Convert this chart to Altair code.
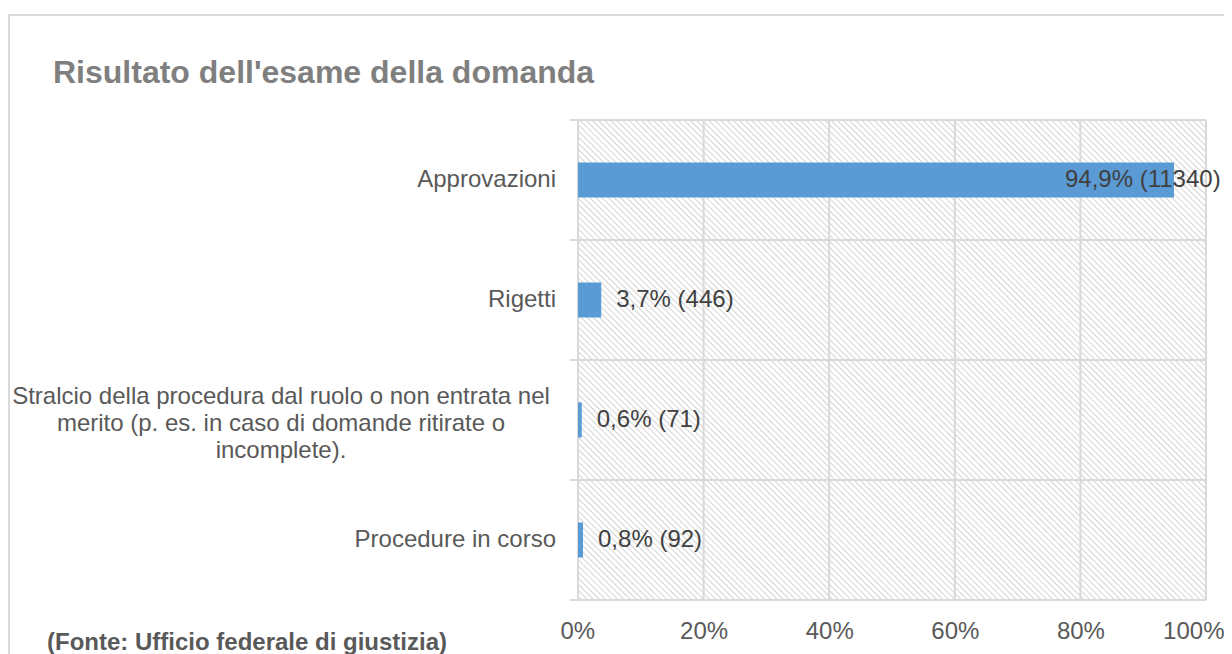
import altair as alt
import pandas as pd

# ---------------- data ----------------
categories = [
    "Approvazioni",
    "Rigetti",
    "Stralcio della procedura dal ruolo o non entrata nel\nmerito (p. es. in caso di domande ritirate o\nincomplete).",
    "Procedure in corso",
]
percent = [94.9, 3.7, 0.6, 0.8]
counts = [11340, 446, 71, 92]
x_ticks = [0, 20, 40, 60, 80, 100]
title_text = "Risultato dell'esame della domanda"
source_text = "(Fonte: Ufficio federale di giustizia)"

# ---------------- style ----------------
W, H = 628, 480
FONT = "Liberation Sans"
FS = 24
GRID = "#d9d9d9"
BLUE = "#5b9bd5"

df = pd.DataFrame({"category": categories, "percent": percent, "count": counts})
tick_df = pd.DataFrame({"tick": x_ticks})
one = pd.DataFrame({"k": [0]})

x_scale = alt.Scale(domain=[0, 100], nice=False, zero=True)
y_scale = alt.Scale(domain=categories, paddingInner=0, paddingOuter=0)
y_enc = alt.Y("category:N", sort=categories, scale=y_scale, axis=None, title=None)

# hatch pattern (diagonal stripes) as a linear gradient
N = 205
stops = []
for k in range(N):
    stops.append({"offset": k / N, "color": "#ffffff"})
    stops.append({"offset": (k + 0.5) / N, "color": "#ffffff"})
    stops.append({"offset": (k + 0.78) / N, "color": "#d6d6d6"})
stops.append({"offset": 1, "color": "#ffffff"})
hatch_fill = {"gradient": "linear", "x1": 0, "y1": 1, "x2": 1, "y2": 0, "stops": stops}

hatch = alt.Chart(one).mark_rect(fill=hatch_fill, clip=True).encode(
    x=alt.X(datum=0, scale=x_scale, title=None),
    x2=alt.X2(datum=100),
    y=alt.value(0),
    y2=alt.value(W),
)

vgrid = alt.Chart(tick_df).mark_rule(color=GRID, strokeWidth=2).encode(
    x=alt.X(
        "tick:Q",
        scale=x_scale,
        title=None,
        axis=alt.Axis(
            values=x_ticks,
            labelExpr="datum.value + '%'",
            domain=False,
            ticks=False,
            tickSize=0,
            grid=False,
            labelFont=FONT,
            labelFontSize=FS,
            labelColor="#595959",
            labelPadding=38,
            labelBaseline="alphabetic",
            labelFlush=True,
            labelFlushOffset=18,
            labelOverlap=False,
        ),
    )
)

hgrid = alt.Chart(df).mark_rule(color=GRID, strokeWidth=2).encode(
    y=alt.Y("category:N", sort=categories, scale=y_scale, axis=None, bandPosition=0),
    x=alt.value(-8),
    x2=alt.value(W),
)
hgrid_bottom = alt.Chart(one).mark_rule(color=GRID, strokeWidth=2).encode(
    y=alt.value(H),
    x=alt.value(-8),
    x2=alt.value(W),
)

bars = alt.Chart(df).mark_bar(color=BLUE, height={"band": 0.292}).encode(
    x=alt.X("percent:Q", scale=x_scale, title=None),
    y=y_enc,
)

label_calc = "replace(format(datum.percent, '.1f'), '.', ',') + '% (' + datum.count + ')'"

labels_out = (
    alt.Chart(df)
    .transform_filter("datum.percent < 50")
    .transform_calculate(lbl=label_calc)
    .mark_text(align="left", baseline="middle", dx=15, font=FONT, fontSize=FS, color="#404040")
    .encode(x=alt.X("percent:Q", scale=x_scale, title=None), y=y_enc, text="lbl:N")
)
labels_in = (
    alt.Chart(df)
    .transform_filter("datum.percent >= 50")
    .transform_calculate(lbl=label_calc)
    .mark_text(align="left", baseline="middle", dx=-109, font=FONT, fontSize=FS, color="#404040")
    .encode(x=alt.X("percent:Q", scale=x_scale, title=None), y=y_enc, text="lbl:N")
)

cat_single = (
    alt.Chart(df)
    .transform_filter("indexof(datum.category, '\\n') < 0")
    .mark_text(align="right", baseline="middle", font=FONT, fontSize=FS, color="#595959")
    .encode(x=alt.value(-22), y=y_enc, text="category:N")
)
cat_multi = (
    alt.Chart(df)
    .transform_filter("indexof(datum.category, '\\n') >= 0")
    .transform_calculate(lines="split(datum.category, '\\n')")
    .mark_text(align="center", baseline="middle", lineHeight=27, dy=-23, font=FONT, fontSize=FS, color="#595959")
    .encode(x=alt.value(-297), y=y_enc, text="lines:N")
)

title = alt.Chart(one).mark_text(
    text=title_text, align="left", baseline="alphabetic", font=FONT, fontSize=32,
    fontWeight="bold", color="#7f7f7f", clip=False,
).encode(x=alt.value(-525), y=alt.value(-37))

source = alt.Chart(one).mark_text(
    text=source_text, align="left", baseline="alphabetic", font=FONT, fontSize=FS,
    fontWeight="bold", color="#595959", clip=False,
).encode(x=alt.value(-531), y=alt.value(530))

border = alt.Chart(one).mark_rect(fillOpacity=0, stroke=GRID, strokeWidth=2, clip=False).encode(
    x=alt.value(-569), x2=alt.value(W + 400), y=alt.value(-105), y2=alt.value(H + 400)
)

chart = (
    alt.layer(hatch, vgrid, hgrid, hgrid_bottom, bars, labels_out, labels_in,
              cat_single, cat_multi, title, source, border)
    .properties(
        width=W,
        height=H,
        autosize=alt.AutoSizeParams(type="none"),
        padding={"left": 570, "top": 112, "right": 18, "bottom": 54},
        background="white",
    )
    .configure_view(stroke=None)
)

chart.save("out.html", embed_options={"renderer": "svg", "actions": False})
